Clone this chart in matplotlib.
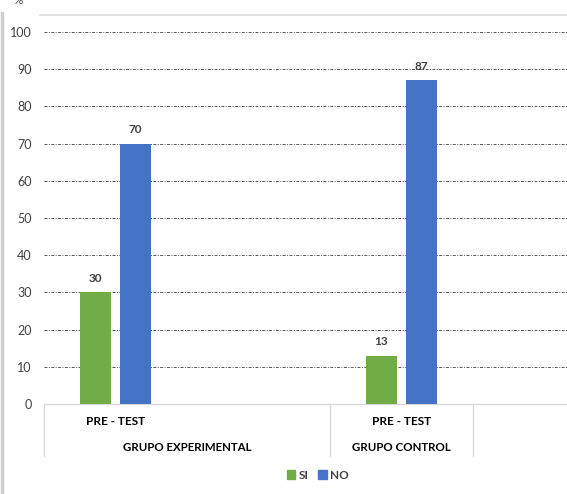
import numpy as np
import matplotlib
matplotlib.use("Agg")
import matplotlib.pyplot as plt
from matplotlib.lines import Line2D
from matplotlib.patches import Patch

plt.rcParams['font.family'] = ['Lato', 'DejaVu Sans']

categories = ["PRE - TEST", "", "PRE - TEST", ""]
groups = ["GRUPO EXPERIMENTAL", "GRUPO CONTROL"]
si_values = [30, np.nan, 13, np.nan]
no_values = [70, np.nan, 87, np.nan]
yticks = [0, 10, 20, 30, 40, 50, 60, 70, 80, 90, 100]

green = '#70AD47'
blue = '#4472C4'
text_col = '#404040'

W, H = 567, 494
fig = plt.figure(figsize=(W / 100, H / 100), dpi=100)
ax = fig.add_axes([44 / W, (H - 404) / H, (W - 44) / W, 372 / H])

x = np.arange(len(categories))
ax.bar(x - 0.14, si_values, width=0.22, color=green, zorder=3)
ax.bar(x + 0.14, no_values, width=0.22, color=blue, zorder=3)

for xi, v in zip(x, si_values):
    if not np.isnan(v):
        ax.annotate(f"{v:.0f}", (xi - 0.14, v), xytext=(0, 10), textcoords='offset points',
                    ha='center', va='center', fontsize=8.5, fontweight='bold', color=text_col)
for xi, v in zip(x, no_values):
    if not np.isnan(v):
        ax.annotate(f"{v:.0f}", (xi + 0.14, v), xytext=(0, 10), textcoords='offset points',
                    ha='center', va='center', fontsize=8.5, fontweight='bold', color=text_col)

ax.set_xlim(-0.5, -0.5 + (W - 44) / 143)
ax.set_ylim(0, 100)
ax.set_yticks(yticks)
ax.tick_params(axis='y', length=0, pad=9, labelsize=9, labelcolor=text_col)
ax.set_xticks([])
ax.grid(axis='y', color='#555555', linestyle=(0, (3, 1.5, 1, 1.5)), linewidth=0.7, zorder=0)
for s in ['top', 'right', 'left']:
    ax.spines[s].set_visible(False)
ax.spines['bottom'].set_color('#d9d9d9')
ax.spines['bottom'].set_linewidth(1)

# category box below the axis
tr = ax.get_xaxis_transform()
for xs in [-0.5, 1.5, 2.5]:
    ax.plot([xs, xs], [0, -0.14], transform=tr, color='#d9d9d9', lw=1, clip_on=False)
for xi, c in zip(x, categories):
    if c:
        ax.text(xi, -0.048, c, transform=tr, ha='center', va='center',
                fontsize=8.5, fontweight='bold', color='black')
ax.text(0.5, -0.118, groups[0], transform=tr, ha='center', va='center',
        fontsize=8.3, fontweight='bold', color='black')
ax.text(2.0, -0.118, groups[1], transform=tr, ha='center', va='center',
        fontsize=8.3, fontweight='bold', color='black')

# chart frame bits
fig.add_artist(Line2D([40 / W, 1], [(H - 15) / H] * 2, color='#d9d9d9', lw=1.2))
fig.add_artist(Line2D([2 / W] * 2, [0, (H - 13) / H], color='#cfcfcf', lw=2.5))
fig.text(18 / W, 1.0, "%", ha='center', va='center', fontsize=8.5, color=text_col)

handles = [Patch(color=green, label='SI'), Patch(color=blue, label='NO')]
leg = fig.legend(handles=handles, loc='center', bbox_to_anchor=(318 / W, 19 / H), ncol=2,
                 frameon=False, fontsize=8.5, handlelength=0.7, handleheight=0.7,
                 handletextpad=0.3, columnspacing=0.8)
for t in leg.get_texts():
    t.set_fontweight('bold')
    t.set_color(text_col)

fig.savefig('out.png', dpi=100)
